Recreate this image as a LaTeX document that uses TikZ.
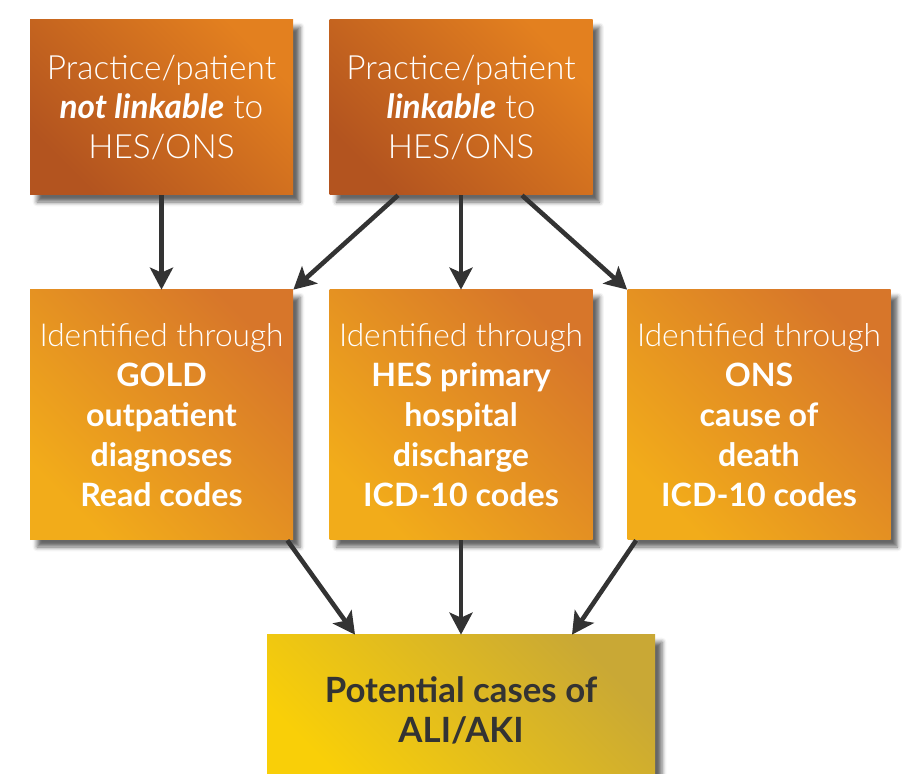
\documentclass[tikz,border=0pt]{standalone}
\usepackage{fontspec}
\setmainfont{Lato}
\newfontfamily\lightfont{Lato Light}
\usetikzlibrary{arrows.meta, calc, shadows.blur}

\definecolor{linkdark}{HTML}{B3541F}
\definecolor{linklight}{HTML}{E3801F}
\definecolor{srcdark}{HTML}{D7762A}
\definecolor{srclight}{HTML}{F2AC1A}
\definecolor{casedark}{HTML}{C9A835}
\definecolor{caselight}{HTML}{F9CF08}
\definecolor{arrowgray}{HTML}{333333}

\begin{document}
\begin{tikzpicture}[
  box/.style={rectangle, minimum width=5.26cm, align=center, inner sep=2pt,
    blur shadow={shadow xshift=4pt, shadow yshift=-4pt, shadow blur radius=2.5pt, shadow opacity=60}},
  linkbox/.style={box, minimum height=3.5cm, bottom color=linkdark, top color=linklight,
    shading angle=-45, text=white, font=\lightfont\fontsize{19}{22.7}\selectfont},
  srcbox/.style={box, minimum height=5cm, bottom color=srclight, top color=srcdark,
    shading angle=-45, text=white, font=\bfseries\fontsize{18.3}{22.7}\selectfont},
  casebox/.style={box, minimum width=7.76cm, minimum height=3cm, bottom color=caselight,
    top color=casedark, shading angle=-45, text=arrowgray, font=\bfseries\fontsize{19.8}{22.7}\selectfont},
  arr/.style={draw=arrowgray, line width=2.6pt, -{Stealth[length=4.4mm, width=4.6mm, inset=1mm]}}
]
\useasboundingbox (0,0) rectangle (18.12,-15.48);

% Linkage of the practice
\node[linkbox] (notlink) at (3.23,-2.15) {Practice/patient\\
  {\normalfont\bfseries\itshape not linkable} to\\ HES/ONS};
\node[linkbox] (link) at (9.22,-2.15) {Practice/patient\\
  {\normalfont\bfseries\itshape linkable} to\\ HES/ONS};

% Data sources
\node[srcbox] (gold) at (3.23,-8.3) {{\lightfont\mdseries\fontsize{18}{22.7}\selectfont Identified through}\\ GOLD\\
  outpatient\\ diagnoses\\ Read codes};
\node[srcbox] (hes) at (9.22,-8.3) {{\lightfont\mdseries\fontsize{18}{22.7}\selectfont Identified through}\\ HES primary\\
  hospital\\ discharge\\ ICD-10 codes};
\node[srcbox] (ons) at (15.18,-8.3) {{\lightfont\mdseries\fontsize{18}{22.7}\selectfont Identified through}\\ ONS\\
  cause of\\ death\\ ICD-10 codes};

% Outcome
\node[casebox] (cases) at (9.22,-14.2) {Potential cases of\\ ALI/AKI};

% Arrows
\draw[arr] (notlink) -- (gold);
\draw[arr] ($(link.south)+(-1.26,0)$) -- (gold.north east);
\draw[arr] (link) -- (hes);
\draw[arr] ($(link.south)+(1.22,0)$) -- (ons.north west);
\draw[arr] ($(gold.south east)+(-0.12,0)$) -- ($(cases.north)+(-2.12,0)$);
\draw[arr] (hes) -- (cases);
\draw[arr] ($(ons.south west)+(0.18,0)$) -- ($(cases.north)+(2.22,0)$);
\end{tikzpicture}
\end{document}
